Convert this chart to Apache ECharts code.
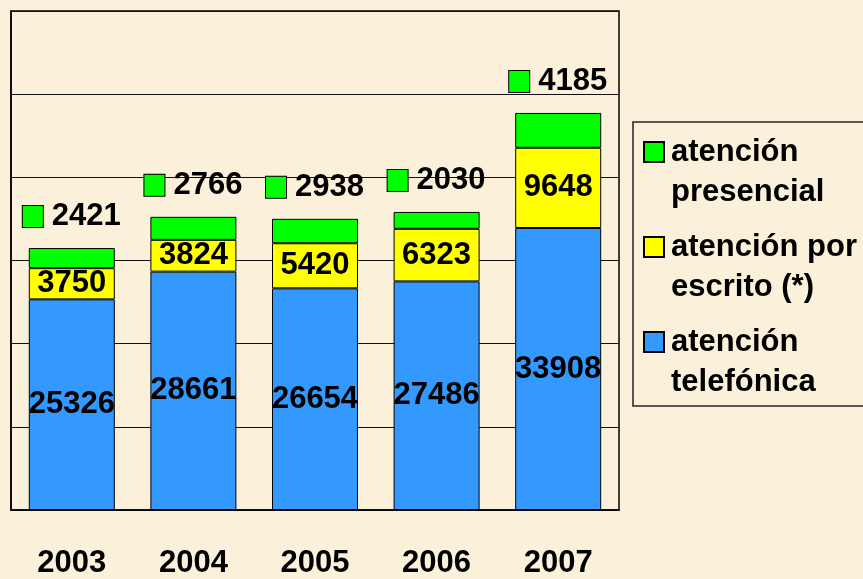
<!DOCTYPE html>
<html>
<head>
<meta charset="utf-8">
<script src="https://cdn.jsdelivr.net/npm/echarts@6/dist/echarts.min.js"></script>
<style>
  html, body { margin: 0; padding: 0; background: #fbf0d9; }
  #chart { width: 863px; height: 579px; }
</style>
</head>
<body>
<div id="chart"></div>
<script>
// datos por año
const years = ['2003', '2004', '2005', '2006', '2007']
const telefonica = [25326, 28661, 26654, 27486, 33908]
const escrito = [3750, 3824, 5420, 6323, 9648]
const presencial = [2421, 2766, 2938, 2030, 4185]

const names = ['atención telefónica', 'atención por escrito (*)', 'atención presencial']
const legendText = {
  'atención presencial': 'atención\npresencial',
  'atención por escrito (*)': 'atención por\nescrito (*)',
  'atención telefónica': 'atención\ntelefónica'
}

const font = "'Liberation Sans', Arial, sans-serif"
const fs = 31
const chart = echarts.init(document.getElementById('chart'))

const barLabel = {
  show: true,
  position: 'inside',
  color: '#000',
  fontFamily: font,
  fontWeight: 'bold',
  fontSize: fs
}

chart.setOption({
  backgroundColor: '#fbf0d9',
  animation: false,
  grid: {
    left: 11, top: 11, right: 244, bottom: 69,
    outerBoundsMode: 'none',
    show: true, borderColor: '#000', borderWidth: 1.5
  },
  legend: {
    orient: 'vertical',
    left: 633,
    top: 122,
    data: ['atención presencial', 'atención por escrito (*)', 'atención telefónica'],
    icon: 'path://M0,0M0,10h20v20h-20zM0,80',
    itemWidth: 20,
    itemHeight: 80,
    itemGap: 13,
    padding: [9, 60, 3, 10],
    borderColor: '#222',
    borderWidth: 1.5,
    formatter: n => legendText[n],
    textStyle: {
      color: '#000', fontFamily: font, fontWeight: 'bold',
      fontSize: fs, lineHeight: 40, padding: [0, 0, 0, 2]
    }
  },
  xAxis: {
    type: 'category',
    data: years,
    axisLine: { lineStyle: { color: '#000', width: 1.5 } },
    axisTick: { length: 11, lineStyle: { color: '#000', width: 1.5 } },
    axisLabel: {
      margin: 38, color: '#000', fontFamily: font,
      fontWeight: 'bold', fontSize: fs
    }
  },
  yAxis: {
    type: 'value',
    min: 0, max: 60000, interval: 10000,
    axisLine: { show: true, lineStyle: { color: '#000', width: 1.5 } },
    axisTick: { show: false },
    axisLabel: { show: false },
    splitLine: { lineStyle: { color: '#111', width: 1 } }
  },
  series: [
    {
      name: names[0], type: 'bar', stack: 'total', data: telefonica,
      barWidth: 86, z: 5,
      itemStyle: { color: '#3399ff', borderColor: '#000', borderWidth: 1 },
      label: barLabel
    },
    {
      name: names[1], type: 'bar', stack: 'total', data: escrito, z: 5,
      itemStyle: { color: '#ffff00', borderColor: '#000', borderWidth: 1 },
      label: barLabel
    },
    {
      name: names[2], type: 'bar', stack: 'total', data: presencial, z: 5,
      itemStyle: { color: '#00ff00', borderColor: '#000', borderWidth: 1 },
      label: {
        show: true,
        position: 'top',
        distance: 16,
        formatter: p => '{sq|}{v|' + p.value + '}',
        rich: {
          sq: {
            width: 20, height: 21,
            backgroundColor: '#00ff00', borderColor: '#000', borderWidth: 1
          },
          v: {
            color: '#000', fontFamily: font, fontWeight: 'bold',
            fontSize: fs, lineHeight: 31, padding: [0, 0, 0, 9]
          }
        }
      }
    }
  ]
})
</script>
</body>
</html>
